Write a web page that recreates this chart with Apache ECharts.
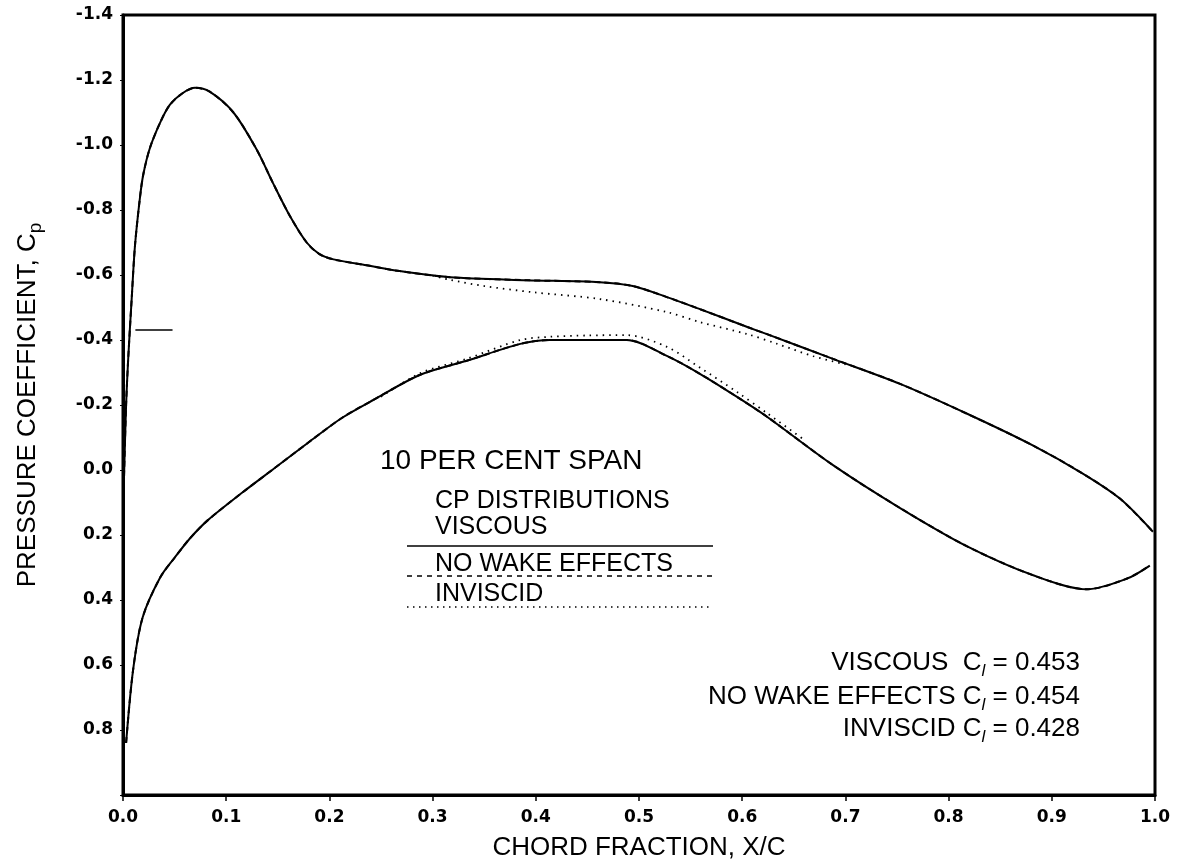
<!DOCTYPE html>
<html>
<head>
<meta charset="utf-8">
<script src="https://cdn.jsdelivr.net/npm/echarts@6/dist/echarts.min.js"></script>
<style>
html,body{margin:0;padding:0;background:#fff;}
#chart{width:1182px;height:866px;}
</style>
</head>
<body>
<div id="chart"></div>
<script>
// ---- data ----
const xTicks = [0.0, 0.1, 0.2, 0.3, 0.4, 0.5, 0.6, 0.7, 0.8, 0.9, 1.0];
const yTicks = [-1.4, -1.2, -1.0, -0.8, -0.6, -0.4, -0.2, 0.0, 0.2, 0.4, 0.6, 0.8, 1.0];

// Viscous, upper surface (suction side)
const viscousUpperX = [0.001, 0.003, 0.005, 0.0084, 0.0116, 0.0165, 0.0197, 0.026, 0.036, 0.0455, 0.058, 0.0698, 0.084, 0.107, 0.1295, 0.145, 0.162, 0.178, 0.19, 0.204, 0.236, 0.268, 0.317, 0.391, 0.462, 0.494, 0.527, 0.559, 0.605, 0.624, 0.688, 0.753, 0.818, 0.882, 0.93, 0.966, 0.998];
const viscousUpperCp = [0.02, -0.2, -0.34, -0.526, -0.69, -0.84, -0.91, -0.99, -1.069, -1.124, -1.16, -1.176, -1.164, -1.10, -0.986, -0.885, -0.78, -0.70, -0.665, -0.648, -0.63, -0.612, -0.593, -0.584, -0.578, -0.566, -0.532, -0.495, -0.44, -0.418, -0.342, -0.265, -0.173, -0.075, 0.011, 0.088, 0.19];

// Viscous, lower surface (pressure side)
const viscousLowerX = [0.003, 0.0097, 0.019, 0.036, 0.05, 0.065, 0.082, 0.115, 0.147, 0.179, 0.212, 0.244, 0.288, 0.333, 0.385, 0.414, 0.488, 0.527, 0.559, 0.595, 0.624, 0.688, 0.753, 0.818, 0.882, 0.934, 0.973, 0.995];
const viscousLowerCp = [0.84, 0.617, 0.454, 0.331, 0.27, 0.21, 0.155, 0.071, -0.006, -0.083, -0.16, -0.218, -0.293, -0.336, -0.388, -0.40, -0.40, -0.351, -0.296, -0.225, -0.164, -0.015, 0.117, 0.235, 0.324, 0.367, 0.334, 0.294];

// No wake effects: coincides with the viscous curves at this scale
const noWakeUpperX = viscousUpperX;
const noWakeUpperCp = viscousUpperCp;
const noWakeLowerX = viscousLowerX;
const noWakeLowerCp = viscousLowerCp;

// Inviscid: only visibly distinct over mid-chord
const inviscidUpperX = [0.30, 0.317, 0.35, 0.397, 0.462, 0.527, 0.559, 0.605, 0.634, 0.669, 0.70];
const inviscidUpperCp = [-0.598, -0.585, -0.566, -0.547, -0.526, -0.486, -0.455, -0.418, -0.388, -0.35, -0.325];
const inviscidLowerX = [0.25, 0.288, 0.333, 0.385, 0.414, 0.45, 0.488, 0.527, 0.559, 0.595, 0.624, 0.66];
const inviscidLowerCp = [-0.225, -0.298, -0.342, -0.40, -0.41, -0.414, -0.415, -0.379, -0.315, -0.24, -0.175, -0.093];

// short horizontal marker near the leading edge
const markerX = [0.012, 0.048];
const markerCp = [-0.431, -0.431];

const zip = (xs, ys) => xs.map((x, i) => [x, ys[i]]);

const chart = echarts.init(document.getElementById('chart'), null, {renderer: 'canvas'});

const tickFont = {color: '#000', fontFamily: 'DejaVu Sans', fontWeight: 'bold', fontSize: 17};
const annFont = 'Liberation Sans, Arial, sans-serif';

function clText(label, value) {
  return '{t|' + label + ' C}{s|l}{t| = ' + value + '}';
}
const clRich = {
  t: {fontSize: 26, fontFamily: annFont, color: '#000', lineHeight: 34, verticalAlign: 'middle'},
  s: {fontSize: 17, fontFamily: annFont, fontStyle: 'italic', color: '#000', lineHeight: 16, verticalAlign: 'bottom'}
};

const SM = 0.3;
const option = {
  backgroundColor: '#fff',
  animation: false,
  grid: {left: 123, right: 27, top: 15, bottom: 70, show: true, borderColor: '#000', borderWidth: 3, backgroundColor: 'transparent'},
  xAxis: {
    type: 'value', min: 0, max: 1, interval: 0.1,
    name: 'CHORD FRACTION, X/C', nameLocation: 'middle', nameGap: 40,
    nameTextStyle: {fontFamily: annFont, fontSize: 26, color: '#000'},
    axisLine: {show: true, onZero: false, lineStyle: {color: '#000', width: 3}},
    axisTick: {show: true, inside: false, length: 6, lineStyle: {color: '#000', width: 1.5}},
    axisLabel: Object.assign({margin: 14, formatter: v => v.toFixed(1)}, tickFont),
    splitLine: {show: false}
  },
  yAxis: {
    type: 'value', min: -1.4, max: 1.0, interval: 0.2, inverse: true,
    name: '{t|PRESSURE COEFFICIENT, C}{s|p}', nameLocation: 'middle', nameGap: 78,
    nameTextStyle: {
      rich: {
        t: {fontFamily: annFont, fontSize: 26, color: '#000', lineHeight: 34, verticalAlign: 'middle'},
        s: {fontFamily: annFont, fontSize: 19, color: '#000', lineHeight: 18, verticalAlign: 'bottom'}
      }
    },
    axisLine: {show: true, onZero: false, lineStyle: {color: '#000', width: 3}},
    axisTick: {show: true, inside: false, length: 3, lineStyle: {color: '#000', width: 1}},
    axisLabel: Object.assign({margin: 10, formatter: v => (Math.abs(v - 1.0) < 1e-6 ? '' : v.toFixed(1))}, tickFont),
    splitLine: {show: false}
  },
  series: [
    {name: 'VISCOUS upper', type: 'line', data: zip(viscousUpperX, viscousUpperCp), showSymbol: false, smooth: SM, lineStyle: {color: '#000', width: 2}},
    {name: 'VISCOUS lower', type: 'line', data: zip(viscousLowerX, viscousLowerCp), showSymbol: false, smooth: SM, lineStyle: {color: '#000', width: 2}},
    {name: 'NO WAKE EFFECTS upper', type: 'line', data: zip(noWakeUpperX, noWakeUpperCp), showSymbol: false, smooth: SM, lineStyle: {color: '#000', width: 2, type: [6, 4]}},
    {name: 'NO WAKE EFFECTS lower', type: 'line', data: zip(noWakeLowerX, noWakeLowerCp), showSymbol: false, smooth: SM, lineStyle: {color: '#000', width: 2, type: [6, 4]}},
    {name: 'INVISCID upper', type: 'line', data: zip(inviscidUpperX, inviscidUpperCp), showSymbol: false, smooth: SM, lineStyle: {color: '#000', width: 1.8, type: [1.5, 5]}},
    {name: 'INVISCID lower', type: 'line', data: zip(inviscidLowerX, inviscidLowerCp), showSymbol: false, smooth: SM, lineStyle: {color: '#000', width: 1.8, type: [1.5, 5]}},
    {name: 'marker', type: 'line', data: zip(markerX, markerCp), showSymbol: false, lineStyle: {color: '#000', width: 1.5}}
  ],
  graphic: [
    {type: 'text', left: 380, top: 447, style: {text: '10 PER CENT SPAN', font: '28px ' + annFont, fill: '#000'}},
    {type: 'text', left: 435, top: 489, style: {text: 'CP DISTRIBUTIONS', font: '25px ' + annFont, fill: '#000'}},
    {type: 'text', left: 435, top: 515, style: {text: 'VISCOUS', font: '25px ' + annFont, fill: '#000'}},
    {type: 'line', shape: {x1: 407, y1: 546, x2: 713, y2: 546}, style: {stroke: '#000', lineWidth: 1.5}},
    {type: 'text', left: 435, top: 552, style: {text: 'NO WAKE EFFECTS', font: '25px ' + annFont, fill: '#000'}},
    {type: 'line', shape: {x1: 407, y1: 576, x2: 713, y2: 576}, style: {stroke: '#000', lineWidth: 1.5, lineDash: [5, 5]}},
    {type: 'text', left: 435, top: 582, style: {text: 'INVISCID', font: '25px ' + annFont, fill: '#000'}},
    {type: 'line', shape: {x1: 407, y1: 607, x2: 713, y2: 607}, style: {stroke: '#000', lineWidth: 1.5, lineDash: [1.5, 4.5]}},
    {type: 'text', x: 1080, y: 663, style: {text: clText('VISCOUS ', '0.453'), rich: clRich, align: 'right', verticalAlign: 'middle'}},
    {type: 'text', x: 1080, y: 697, style: {text: clText('NO WAKE EFFECTS', '0.454'), rich: clRich, align: 'right', verticalAlign: 'middle'}},
    {type: 'text', x: 1080, y: 729, style: {text: clText('INVISCID', '0.428'), rich: clRich, align: 'right', verticalAlign: 'middle'}}
  ]
};
chart.setOption(option);
</script>
</body>
</html>
